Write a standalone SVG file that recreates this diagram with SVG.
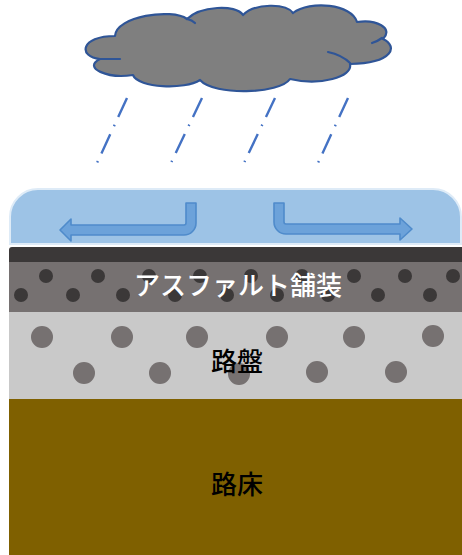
<svg xmlns="http://www.w3.org/2000/svg" width="462" height="555" viewBox="0 0 462 555">
  <defs>
    <style>
      .rain { fill: none; stroke: #4472C4; stroke-width: 2.4; stroke-dasharray: 21 8.5 1.5 9; }
      .flow { fill: #6CA2DA; stroke: #4F8BCB; stroke-width: 1.6; stroke-linejoin: round; }
      .agg-a { fill: #3B3838; }
      .agg-b { fill: #767171; }
      .label { font-family: "Noto Sans CJK JP", "Noto Sans", sans-serif; font-size: 26px; font-weight: 500; text-anchor: middle; dominant-baseline: central; }
    </style>
  </defs>

  <rect width="462" height="555" fill="#FFFFFF"/>

  <!-- storm cloud -->
  <g id="cloud">
    <path d="M115,36 C116,16 172,8 187,19 C200,6 236,4 243,15 C255,3 286,3 293,13 C310,0 352,4 357,22 C376,19 394,28 383,39 C398,46 394,63 350,64 C353,77 320,86 290,79 C280,94 214,96 200,80 C185,90 138,88 133,75 C108,79 82,68 100,59 C78,57 80,36 115,36 Z" fill="#7F7F7F" stroke="#2F5597" stroke-width="2.2" stroke-linejoin="round"/>
    <g fill="none" stroke="#2F5597" stroke-width="2.2" stroke-linecap="round">
      <path d="M100,59 L120,59"/>
      <path d="M187,19 Q192,20 195,23"/>
      <path d="M372,43 Q378,41 382,38"/>
      <path d="M328,52 Q342,55 350,63"/>
    </g>
  </g>

  <!-- falling rain -->
  <g id="rain">
    <line class="rain" x1="127" y1="98" x2="97" y2="163"/>
    <line class="rain" x1="202" y1="98" x2="171" y2="163"/>
    <line class="rain" x1="275" y1="98" x2="244" y2="163"/>
    <line class="rain" x1="348" y1="98" x2="318" y2="163"/>
  </g>

  <!-- surface water film -->
  <g id="water">
    <path d="M10,244 V217 A28,28 0 0 1 38,189 H433 A28,28 0 0 1 461,217 V244 Z" fill="#9DC3E6" stroke="#DEEBF7" stroke-width="2"/>
  </g>

  <!-- runoff arrows -->
  <g id="connectors">
    <path class="flow" d="M186,203 H196 V223 A12,12 0 0 1 184,235 H71 V241 L60,230 L71,219 V225 H184 A2,2 0 0 0 186,223 Z"/>
    <path class="flow" d="M284,203 H274 V222 A12,12 0 0 0 286,234 H400 V240 L412,229 L400,218 V224 H286 A2,2 0 0 1 284,222 Z"/>
  </g>

  <!-- seal coat -->
  <g id="seal">
    <path d="M9,262 V250 A3,3 0 0 1 12,247 H462 V262 Z" fill="#3B3838"/>
  </g>

  <!-- asphalt pavement -->
  <g id="asphalt">
    <rect x="9" y="262" width="453" height="50" fill="#767171"/>
    <g class="agg-a">
      <circle cx="46" cy="276" r="7"/>
      <circle cx="98" cy="276" r="7"/>
      <circle cx="149" cy="276" r="7"/>
      <circle cx="200" cy="276" r="7"/>
      <circle cx="251" cy="276" r="7"/>
      <circle cx="302" cy="276" r="7"/>
      <circle cx="354" cy="276" r="7"/>
      <circle cx="405" cy="276" r="7"/>
      <circle cx="453" cy="276" r="7"/>
      <circle cx="21" cy="295" r="7"/>
      <circle cx="73" cy="295" r="7"/>
      <circle cx="123" cy="295" r="7"/>
      <circle cx="175" cy="295" r="7"/>
      <circle cx="227" cy="295" r="7"/>
      <circle cx="277" cy="295" r="7"/>
      <circle cx="328" cy="295" r="7"/>
      <circle cx="378" cy="295" r="7"/>
      <circle cx="430" cy="295" r="7"/>
    </g>
    <text class="label" x="238" y="283" fill="#FFFFFF">アスファルト舗装</text>
  </g>

  <!-- base course -->
  <g id="base">
    <rect x="9" y="312" width="453" height="87" fill="#C9C9C9"/>
    <g class="agg-b">
      <circle cx="42" cy="337" r="11"/>
      <circle cx="122" cy="337" r="11"/>
      <circle cx="197" cy="337" r="11"/>
      <circle cx="277" cy="337" r="11"/>
      <circle cx="354" cy="337" r="11"/>
      <circle cx="433" cy="336" r="11"/>
      <circle cx="84" cy="373" r="11"/>
      <circle cx="160" cy="373" r="11"/>
      <circle cx="239" cy="374" r="11"/>
      <circle cx="317" cy="372" r="11"/>
      <circle cx="396" cy="372" r="11"/>
    </g>
    <text class="label" x="237" y="359" fill="#000000">路盤</text>
  </g>

  <!-- subgrade -->
  <g id="subgrade">
    <rect x="9" y="399" width="453" height="156" fill="#7F6000"/>
    <text class="label" x="237" y="482" fill="#000000">路床</text>
  </g>
</svg>
